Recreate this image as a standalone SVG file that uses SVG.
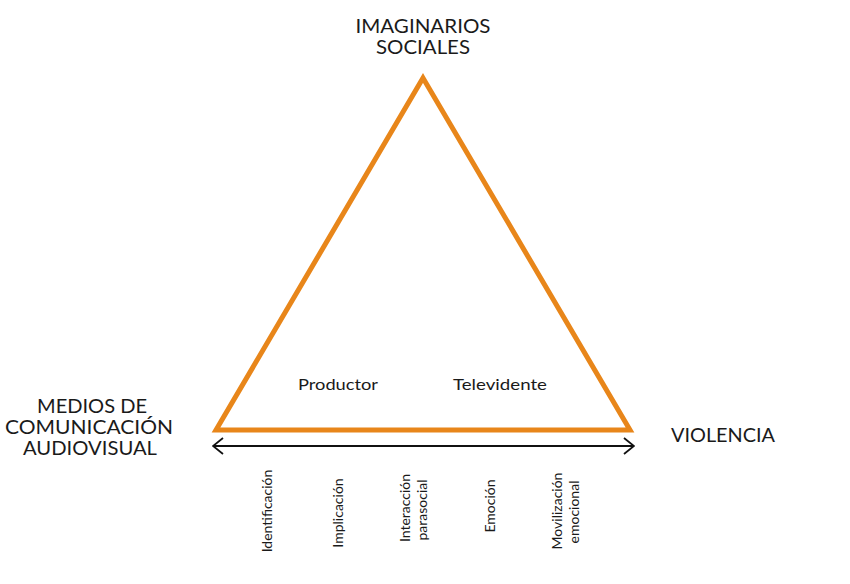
<svg xmlns="http://www.w3.org/2000/svg" width="850" height="584" viewBox="0 0 850 584">
<defs>
<style>
text{font-family:Lato,"Open Sans","Liberation Sans",sans-serif;fill:#1a1a1a}
.big{font-size:20px}
.mid{font-size:16px}
.small{font-size:14px}
</style>
<marker id="chev" viewBox="0 0 12 18" refX="11" refY="9" markerWidth="12" markerHeight="18" markerUnits="userSpaceOnUse" orient="auto-start-reverse">
<path d="M1,1 L11,9 L1,17" fill="none" stroke="#111" stroke-width="1.8"/>
</marker>
</defs>
<rect width="850" height="584" fill="#fff"/>
<g id="connectors">
<polygon points="423,78 630,430 216,430" fill="none" stroke="#E8861A" stroke-width="5" stroke-linejoin="miter"/>
<line x1="213" y1="446" x2="634" y2="446" stroke="#111" stroke-width="2" marker-start="url(#chev)" marker-end="url(#chev)"/>
</g>
<g id="imaginarios">
<text class="big" x="423" y="33" text-anchor="middle" textLength="135" lengthAdjust="spacingAndGlyphs">IMAGINARIOS</text>
<text class="big" x="423" y="54" text-anchor="middle" textLength="94" lengthAdjust="spacingAndGlyphs">SOCIALES</text>
</g>
<g id="medios">
<text class="big" x="92" y="413" text-anchor="middle" textLength="110" lengthAdjust="spacingAndGlyphs">MEDIOS DE</text>
<text class="big" x="89" y="434" text-anchor="middle" textLength="168" lengthAdjust="spacingAndGlyphs">COMUNICACIÓN</text>
<text class="big" x="90" y="455" text-anchor="middle" textLength="134" lengthAdjust="spacingAndGlyphs">AUDIOVISUAL</text>
</g>
<g id="violencia">
<text class="big" x="723" y="442" text-anchor="middle" textLength="104" lengthAdjust="spacingAndGlyphs">VIOLENCIA</text>
</g>
<g id="productor">
<text class="mid" x="338" y="390" text-anchor="middle" textLength="80" lengthAdjust="spacingAndGlyphs">Productor</text>
</g>
<g id="televidente">
<text class="mid" x="500" y="390" text-anchor="middle" textLength="94" lengthAdjust="spacingAndGlyphs">Televidente</text>
</g>
<g id="identificacion">
<text class="small" transform="translate(272,511) rotate(-90)" text-anchor="middle">Identificación</text>
</g>
<g id="implicacion">
<text class="small" transform="translate(343,513) rotate(-90)" text-anchor="middle">Implicación</text>
</g>
<g id="interaccion">
<text class="small" transform="translate(410,508) rotate(-90)" text-anchor="middle">Interacción</text>
<text class="small" transform="translate(427,510) rotate(-90)" text-anchor="middle">parasocial</text>
</g>
<g id="emocion">
<text class="small" transform="translate(495,506) rotate(-90)" text-anchor="middle">Emoción</text>
</g>
<g id="movilizacion">
<text class="small" transform="translate(562,511) rotate(-90)" text-anchor="middle">Movilización</text>
<text class="small" transform="translate(579,512) rotate(-90)" text-anchor="middle">emocional</text>
</g>
</svg>
